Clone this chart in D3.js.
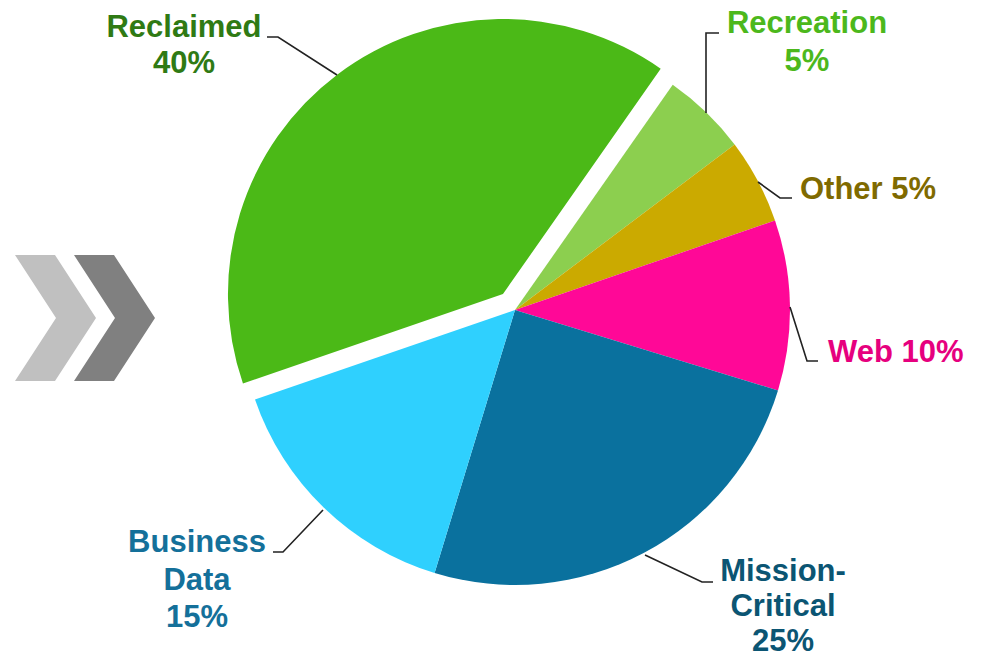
<!DOCTYPE html>
<html><head><meta charset="utf-8">
<script src="https://cdn.jsdelivr.net/npm/d3@7"></script>
<style>html,body{margin:0;padding:0;background:#fff;}svg{display:block;}</style>
</head><body>
<svg id="c" width="984" height="659"></svg>
<script>
const categories = ["Recreation", "Other", "Web", "Mission-Critical", "Business Data", "Reclaimed"];
const values = [5, 5, 10, 25, 15, 40];
const labelLines = [["Recreation","5%"],["Other 5%"],["Web 10%"],["Mission-","Critical","25%"],["Business","Data","15%"],["Reclaimed","40%"]];
const sliceColors = ["#8ccf4f","#cbaa00","#ff0897","#0a719e","#2fd0fe","#4bb917"];
const textColors = ["#4cb81c","#7f6a00","#e6007e","#0b5573","#14709a","#2f7a14"];
const exploded = ["Reclaimed"];

const svg = d3.select("#c");
const cx = 515, cy = 310, R = 275, explode = 20;

// chevrons
const chev = [[15,55,"#c0c0c0"],[74,114,"#808080"]];
chev.forEach(([x0,x1,col])=>{
  const w = 41, top=255, mid=318, bot=381;
  svg.append("path").attr("d",`M${x0},${top}L${x1},${top}L${x1+w},${mid}L${x1},${bot}L${x0},${bot}L${x0+w},${mid}Z`).attr("fill",col);
});

const pie = d3.pie().sort(null).startAngle(35*Math.PI/180).endAngle(35*Math.PI/180+2*Math.PI);
const arcs = pie(values);
const arc = d3.arc().innerRadius(0).outerRadius(R);
const g = svg.append("g").attr("transform",`translate(${cx},${cy})`);
g.selectAll("path").data(arcs).join("path")
  .attr("d",arc)
  .attr("fill",(d,i)=>sliceColors[i])
  .attr("transform",(d,i)=>{
    if(!exploded.includes(categories[i])) return null;
    const a=(d.startAngle+d.endAngle)/2;
    return `translate(${Math.sin(a)*explode},${-Math.cos(a)*explode})`;
  });

// leader lines (polyline points) and label anchors
const leaders = [
  [[719,33],[706,33],[706,113]],
  [[792,198],[780,198],[758,182]],
  [[818,361],[807,361],[790,307]],
  [[713,582],[702,582],[645,555]],
  [[273,552],[283,552],[323,510]],
  [[267,37],[278,37],[337,75]]
];
const labelPos = [
  {x:807,y:33,anchor:"middle",lh:38},
  {x:800,y:199,anchor:"start",lh:37},
  {x:828,y:362,anchor:"start",lh:37},
  {x:783,y:581,anchor:"middle",lh:35},
  {x:197,y:552,anchor:"middle",lh:37.5},
  {x:184,y:37,anchor:"middle",lh:36}
];
const line = d3.line();
svg.selectAll("path.leader").data(leaders).join("path").attr("class","leader")
  .attr("d",d=>line(d)).attr("fill","none").attr("stroke","#222").attr("stroke-width",1.6);

categories.forEach((c,i)=>{
  const p = labelPos[i];
  const t = svg.append("text").attr("x",p.x).attr("y",p.y).attr("text-anchor",p.anchor)
    .attr("fill",textColors[i]).style("font-family","'Liberation Sans', Arial, sans-serif")
    .style("font-weight","bold").style("font-size","31px");
  labelLines[i].forEach((l,j)=>{
    t.append("tspan").attr("x",p.x).attr("dy",j===0?0:p.lh).text(l);
  });
});
</script>
</body></html>
